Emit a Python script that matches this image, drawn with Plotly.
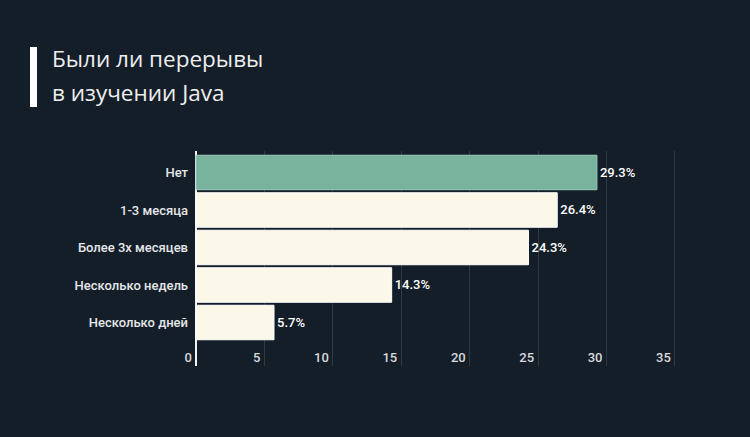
import plotly.graph_objects as go

categories = ["Нет", "1-3 месяца", "Более 3х месяцев", "Несколько недель", "Несколько дней"]
values = [29.3, 26.4, 24.3, 14.3, 5.7]
labels = ["29.3%", "26.4%", "24.3%", "14.3%", "5.7%"]
tick_vals = [0, 5, 10, 15, 20, 25, 30, 35]

bg = "#141e28"
colors = ["#77b39d"] + ["#fbf8ea"] * 4
line_colors = ["#9fcbb9"] + ["#ffffff"] * 4

L, R, T, B = 180, 71, 151, 71
W, H = 750, 437
pw, ph = W - L - R, H - T - B

def px(x):
    return (x - L) / pw

def py(y):
    return 1 - (y - T) / ph

fig = go.Figure(go.Bar(
    x=values, y=categories, orientation="h",
    marker=dict(color=colors, line=dict(color=line_colors, width=1)),
    text=labels, textposition="outside", cliponaxis=False,
    textfont=dict(family="Roboto", size=13, color="#ffffff", weight=500),
    width=0.92,
))

fig.update_layout(
    width=W, height=H,
    paper_bgcolor=bg, plot_bgcolor=bg,
    margin=dict(l=L, r=R, t=T, b=B),
    showlegend=False,
    xaxis=dict(range=[-1.17, 35.3], tickvals=tick_vals, showgrid=True,
               gridcolor="#2d3944", gridwidth=1,
               zeroline=True, zerolinecolor="#f2f2f2", zerolinewidth=2,
               ticklabelposition="inside left", ticks="",
               ticklabelshift=-4, ticklabelstandoff=-5,
               tickfont=dict(family="Roboto", size=13, color="#d8dadc", weight=500),
               fixedrange=True),
    yaxis=dict(categoryorder="array", categoryarray=categories,
               range=[5.16, -0.573], showline=False,
               showgrid=False, ticks="", ticklabelstandoff=-9,
               tickfont=dict(family="Roboto", size=13, color="#e4e6e8", weight=500)),
    shapes=[dict(type="rect", xref="paper", yref="paper",
                 x0=px(30), x1=px(37), y0=py(107), y1=py(47),
                 fillcolor="#ffffff", line=dict(width=0))],
    annotations=[
        dict(text="Были ли перерывы", xref="paper", yref="paper",
             x=px(50), y=py(58), xanchor="left", yanchor="middle",
             showarrow=False, font=dict(family="Open Sans", size=22.5, color="#eeeeee")),
        dict(text="в изучении Java", xref="paper", yref="paper",
             x=px(50), y=py(92), xanchor="left", yanchor="middle",
             showarrow=False, font=dict(family="Open Sans", size=22.5, color="#eeeeee")),
    ],
)

fig.write_html("out.html")
